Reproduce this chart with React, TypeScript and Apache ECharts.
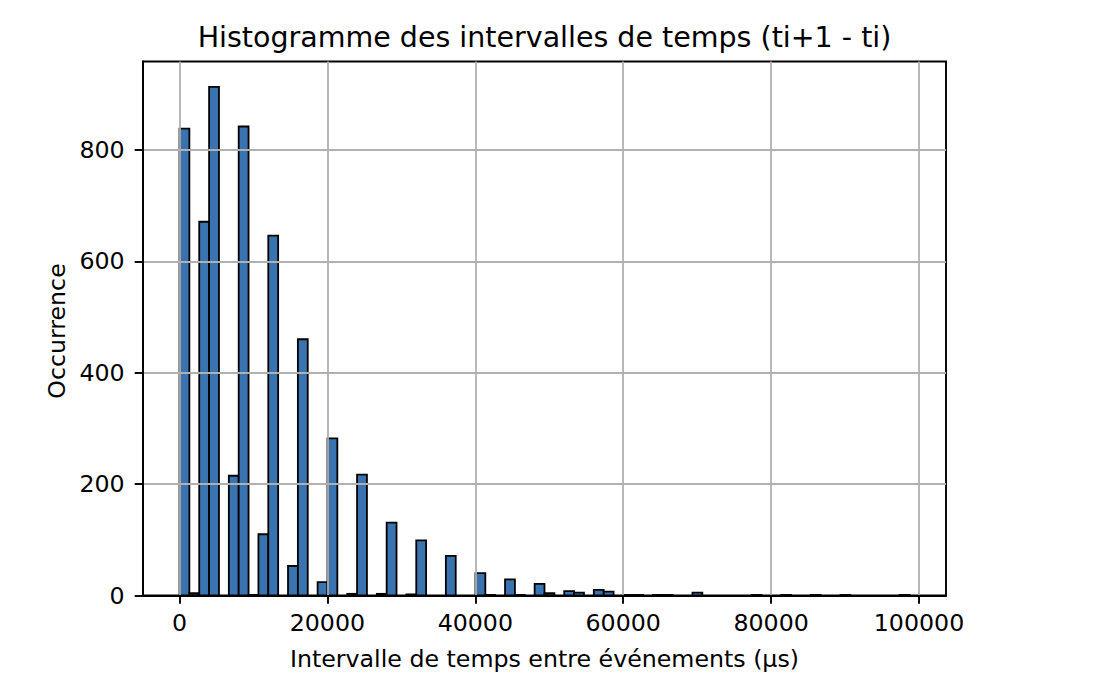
import React, { useEffect, useRef } from "react";
import * as echarts from "echarts";

// Histogram bins (74 equal-width bins starting at 0 µs)
const BIN_START = 0;
const BIN_WIDTH = 1334;
const COUNTS = [
  838, 4, 671, 913, 0, 215, 842, 1, 110, 646,
  0, 53, 460, 0, 24, 282, 0, 3, 217, 0,
  3, 131, 0, 2, 99, 0, 0, 71, 0, 0,
  40, 1, 0, 29, 1, 0, 21, 4, 0, 8,
  5, 0, 10, 7, 0, 1, 1, 0, 1, 1,
  0, 0, 5, 0, 0, 0, 0, 0, 1, 0,
  0, 1, 0, 0, 1, 0, 0, 1, 0, 0,
  0, 0, 0, 1,
];
const X_TICKS = [0, 20000, 40000, 60000, 80000, 100000];
const Y_TICKS = [0, 200, 400, 600, 800];
const X_MIN = -4936;
const X_MAX = 103652;
const Y_MAX = 958.65;

const TITLE = "Histogramme des intervalles de temps (ti+1 - ti)";
const X_NAME = "Intervalle de temps entre événements (µs)";
const Y_NAME = "Occurrence";

const FONT = "DejaVu Sans";
const TICK_FS = 23.7;

export default function App() {
  const ref = useRef<HTMLDivElement>(null);
  useEffect(() => {
    if (!ref.current) return;
    const chart = echarts.init(ref.current, null, { renderer: "svg" });
    const data = COUNTS.map((c, i) => [
      BIN_START + i * BIN_WIDTH,
      BIN_START + (i + 1) * BIN_WIDTH,
      c,
    ]);
    const gridLeft = 143;
    const gridTop = 61.5;
    const gridRight = 946;
    const gridBottom = 595.5;
    const cx = (gridLeft + gridRight) / 2;
    chart.setOption({
      animation: false,
      backgroundColor: "#fff",
      grid: {
        left: gridLeft,
        top: gridTop,
        width: gridRight - gridLeft,
        height: gridBottom - gridTop,
        show: true,
        borderColor: "#000",
        borderWidth: 1.9,
        backgroundColor: "transparent",
      },
      xAxis: {
        type: "value",
        min: X_MIN,
        max: X_MAX,
        z: 3,
        axisLine: { show: true, onZero: false, lineStyle: { color: "#000", width: 1.9 } },
        axisTick: {
          show: true,
          length: 8.3,
          customValues: X_TICKS,
          lineStyle: { color: "#000", width: 1.9 },
        },
        axisLabel: {
          customValues: X_TICKS,
          formatter: (v: number) => String(v),
          fontFamily: FONT,
          fontSize: TICK_FS,
          color: "#000",
          margin: 15.6,
        },
        splitLine: { show: true, lineStyle: { color: "#b0b0b0", width: 1.8 } },
      },
      yAxis: {
        type: "value",
        min: 0,
        max: Y_MAX,
        z: 3,
        axisLine: { show: true, onZero: false, lineStyle: { color: "#000", width: 1.9 } },
        axisTick: {
          show: true,
          length: 8.3,
          customValues: Y_TICKS,
          lineStyle: { color: "#000", width: 1.9 },
        },
        axisLabel: {
          customValues: Y_TICKS,
          formatter: (v: number) => String(v),
          fontFamily: FONT,
          fontSize: TICK_FS,
          color: "#000",
          margin: 18.3,
        },
        splitLine: { show: true, lineStyle: { color: "#b0b0b0", width: 1.8 } },
      },
      series: [
        {
          type: "custom",
          z: 2,
          encode: { x: [0, 1], y: 2 },
          data,
          renderItem: (params: any, api: any) => {
            const s = api.value(0);
            const e = api.value(1);
            const c = api.value(2);
            if (!c) return null;
            const p0 = api.coord([s, c]);
            const p1 = api.coord([e, 0]);
            return {
              type: "rect",
              shape: { x: p0[0], y: p0[1], width: p1[0] - p0[0], height: p1[1] - p0[1] },
              style: { fill: "#3a74b0", stroke: "#000", lineWidth: 1.8 },
            };
          },
        },
      ],
      graphic: [
        {
          type: "text",
          x: cx,
          y: 37,
          style: {
            text: TITLE,
            fontFamily: FONT,
            fontSize: 28.5,
            fill: "#000",
            align: "center",
            verticalAlign: "middle",
          },
        },
        {
          type: "text",
          x: cx,
          y: 659,
          style: {
            text: X_NAME,
            fontFamily: FONT,
            fontSize: TICK_FS,
            fill: "#000",
            align: "center",
            verticalAlign: "middle",
          },
        },
        {
          type: "text",
          x: 56.8,
          y: 331,
          rotation: Math.PI / 2,
          style: {
            text: Y_NAME,
            fontFamily: FONT,
            fontSize: TICK_FS,
            fill: "#000",
            align: "center",
            verticalAlign: "middle",
          },
        },
      ],
    });
    return () => chart.dispose();
  }, []);
  return (
    <div
      ref={ref}
      style={{ position: "absolute", left: 0, top: 0, width: 1096, height: 684 }}
    />
  );
}
